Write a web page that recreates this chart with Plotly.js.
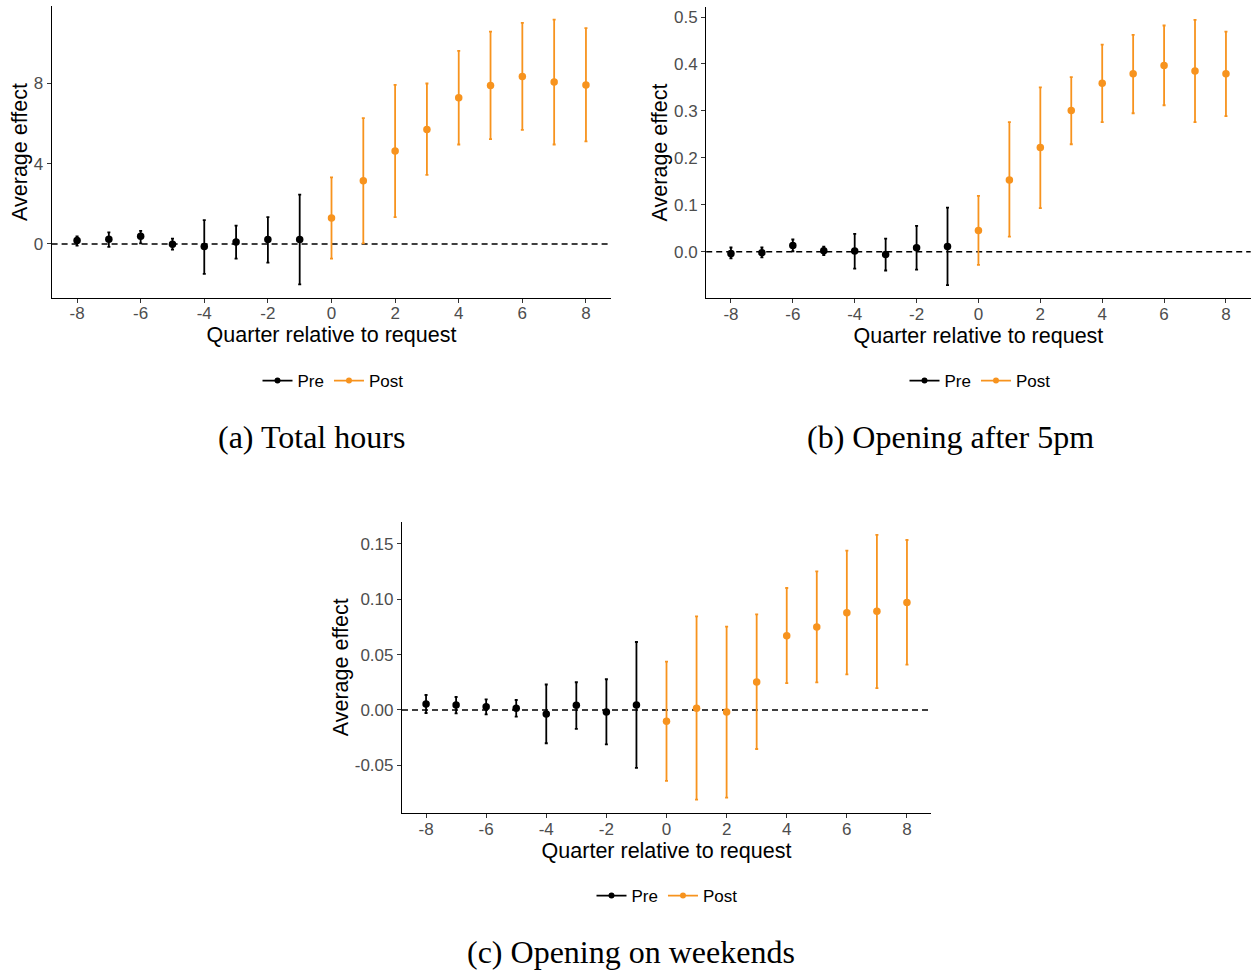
<!DOCTYPE html>
<html>
<head>
<meta charset="utf-8">
<script src="https://cdn.plot.ly/plotly-3.0.1.min.js"></script>
<style>
html,body{margin:0;padding:0;background:#fff;}
#chart{width:1252px;height:970px;}
</style>
</head>
<body>
<div id="chart"></div>
<script>
// ---------------- data ----------------
const quarters = [-8,-7,-6,-5,-4,-3,-2,-1,0,1,2,3,4,5,6,7,8];

// (a) Total hours
const hoursEst = [0.17,0.23,0.38,-0.02,-0.13,0.10,0.22,0.22,1.29,3.15,4.63,5.71,7.29,7.90,8.35,8.07,7.93];
const hoursLo  = [-0.08,-0.15,0.03,-0.28,-1.49,-0.73,-0.93,-2.02,-0.73,0.03,1.34,3.44,4.96,5.23,5.69,4.96,5.11];
const hoursHi  = [0.38,0.58,0.65,0.27,1.19,0.91,1.34,2.46,3.32,6.27,7.93,8.00,9.63,10.59,11.02,11.19,10.76];

// (b) Opening after 5pm
const eveEst = [-0.004,-0.002,0.0135,0.002,0.0015,-0.006,0.0085,0.011,0.045,0.153,0.222,0.301,0.359,0.379,0.397,0.385,0.379];
const eveLo  = [-0.014,-0.012,0.001,-0.007,-0.036,-0.040,-0.038,-0.071,-0.028,0.032,0.093,0.229,0.276,0.295,0.312,0.276,0.289];
const eveHi  = [0.009,0.009,0.026,0.011,0.038,0.028,0.055,0.094,0.119,0.276,0.350,0.372,0.441,0.462,0.482,0.494,0.469];

// (c) Opening on weekends
const wkEst = [0.0054,0.0045,0.003,0.0015,-0.0036,0.0042,-0.0018,0.0045,-0.0102,0.0015,-0.0018,0.0252,0.067,0.0748,0.0878,0.089,0.097];
const wkLo  = [-0.0027,-0.003,-0.004,-0.006,-0.030,-0.017,-0.031,-0.0523,-0.064,-0.0809,-0.079,-0.0352,0.0243,0.0249,0.0322,0.0198,0.0409];
const wkHi  = [0.0135,0.0117,0.0096,0.009,0.023,0.025,0.0277,0.0613,0.0436,0.0845,0.0751,0.0863,0.110,0.125,0.1437,0.158,0.1533];

const groupNames = ["Pre","Post"];
const xTickVals = [-8,-6,-4,-2,0,2,4,6,8];
const xTickText = ["-8","-6","-4","-2","0","2","4","6","8"];
const yTickValsA = [0,4,8];
const yTickTextA = ["0","4","8"];
const yTickValsB = [0,0.1,0.2,0.3,0.4,0.5];
const yTickTextB = ["0.0","0.1","0.2","0.3","0.4","0.5"];
const yTickValsC = [-0.05,0,0.05,0.10,0.15];
const yTickTextC = ["-0.05","0.00","0.05","0.10","0.15"];
const captions = ["(a) Total hours","(b) Opening after 5pm","(c) Opening on weekends"];
const xTitle = "Quarter relative to request";
const yTitle = "Average effect";

// ---------------- style ----------------
const W = 1252, H = 970;
const colPre = "#000000", colPost = "#F7931E";
const SANS = "Liberation Sans, Arial, Helvetica, sans-serif";
const SERIF = "Liberation Serif, Times New Roman, serif";

function px2x(p){ return p / W; }
function px2y(p){ return 1 - p / H; }

const traces = [];
function addPanel(est, lo, hi, xa, ya, legendId){
  const groups = [
    {name: groupNames[0], color: colPre, test: q => q < 0},
    {name: groupNames[1], color: colPost, test: q => q >= 0}
  ];
  groups.forEach(g => {
    const xs=[], ys=[], up=[], dn=[];
    quarters.forEach((q,i) => {
      if (g.test(q)) { xs.push(q); ys.push(est[i]); up.push(hi[i]-est[i]); dn.push(est[i]-lo[i]); }
    });
    traces.push({
      type:"scatter", mode:"markers", x: xs, y: ys, xaxis: xa, yaxis: ya,
      marker:{color:g.color, size:7.5},
      error_y:{type:"data", symmetric:false, array: up, arrayminus: dn, color:g.color, thickness:1.8, width:1.5},
      showlegend:false, hoverinfo:"x+y"
    });
    // legend key (line + point)
    traces.push({
      type:"scatter", mode:"lines+markers", x:[null], y:[null], xaxis: xa, yaxis: ya,
      name: g.name, legend: legendId,
      line:{color:g.color, width:1.8}, marker:{color:g.color, size:6},
      showlegend:true
    });
  });
}
addPanel(hoursEst, hoursLo, hoursHi, "x", "y", "legend");
addPanel(eveEst, eveLo, eveHi, "x2", "y2", "legend2");
addPanel(wkEst, wkLo, wkHi, "x3", "y3", "legend3");

function xaxisCfg(domain, anchor){
  return {
    domain: domain, anchor: anchor, range:[-8.8, 8.8],
    tickmode:"array", tickvals: xTickVals, ticktext: xTickText,
    showline:true, linecolor:"#000", linewidth:1.2, mirror:false,
    ticks:"outside", ticklen:4, tickwidth:1, tickcolor:"#333",
    ticklabelstandoff:-4,
    showgrid:false, zeroline:false,
    tickfont:{family:SANS, size:17, color:"#4D4D4D"},
    title:{text:xTitle, font:{family:SANS, size:21.5, color:"#000"}, standoff:1},
    automargin:false, fixedrange:true
  };
}
function yaxisCfg(domain, anchor, range, tv, tt){
  return {
    domain: domain, anchor: anchor, range: range,
    tickmode:"array", tickvals: tv, ticktext: tt,
    showline:true, linecolor:"#000", linewidth:1.2, mirror:false,
    ticks:"outside", ticklen:4, tickwidth:1, tickcolor:"#333",
    showgrid:false, zeroline:false,
    tickfont:{family:SANS, size:17, color:"#4D4D4D"},
    title:{text:yTitle, font:{family:SANS, size:21.5, color:"#000"}, standoff:0},
    automargin:false, fixedrange:true
  };
}

const dashLine = (xref, yref) => ({
  type:"line", xref: xref + " domain", yref: yref, x0:0, x1:1, y0:0, y1:0,
  line:{color:"#000", width:1.5, dash:"6px,4px"}, layer:"below"
});

const legendCfg = (cx, cy) => ({
  x: px2x(cx), y: px2y(cy), xanchor:"center", yanchor:"middle",
  orientation:"h", font:{family:SANS, size:17, color:"#000"},
  bgcolor:"rgba(0,0,0,0)", itemwidth:30, tracegroupgap:0
});

const capFont = {family:SERIF, size:32, color:"#000"};

const layout = {
  width: W, height: H, autosize:false,
  margin:{l:0,r:0,t:0,b:0},
  paper_bgcolor:"#fff", plot_bgcolor:"#fff",
  showlegend:true,
  xaxis: xaxisCfg([px2x(51.6), px2x(611.4)], "y"),
  yaxis: yaxisCfg([px2y(297.7), px2y(6.3)], "x", [-2.68, 11.85], yTickValsA, yTickTextA),
  xaxis2: xaxisCfg([px2x(706.2), px2x(1250.7)], "y2"),
  yaxis2: yaxisCfg([px2y(298.2), px2y(6.7)], "x2", [-0.099, 0.522], yTickValsB, yTickTextB),
  xaxis3: xaxisCfg([px2x(402), px2x(931)], "y3"),
  yaxis3: yaxisCfg([px2y(813.1), px2y(521.5)], "x3", [-0.093, 0.170], yTickValsC, yTickTextC),
  shapes: [dashLine("x","y"), dashLine("x2","y2"), dashLine("x3","y3")],
  legend: legendCfg(333, 381),
  legend2: legendCfg(980, 381),
  legend3: legendCfg(667, 896),
  annotations: [
    {text: captions[0], x: px2x(311), y: px2y(437), xref:"paper", yref:"paper", xanchor:"center", yanchor:"middle", showarrow:false, font:capFont},
    {text: captions[1], x: px2x(950), y: px2y(437), xref:"paper", yref:"paper", xanchor:"center", yanchor:"middle", showarrow:false, font:capFont},
    {text: captions[2], x: px2x(631), y: px2y(952), xref:"paper", yref:"paper", xanchor:"center", yanchor:"middle", showarrow:false, font:capFont}
  ]
};

Plotly.newPlot("chart", traces, layout, {displayModeBar:false, staticPlot:false, responsive:false});
</script>
</body>
</html>
